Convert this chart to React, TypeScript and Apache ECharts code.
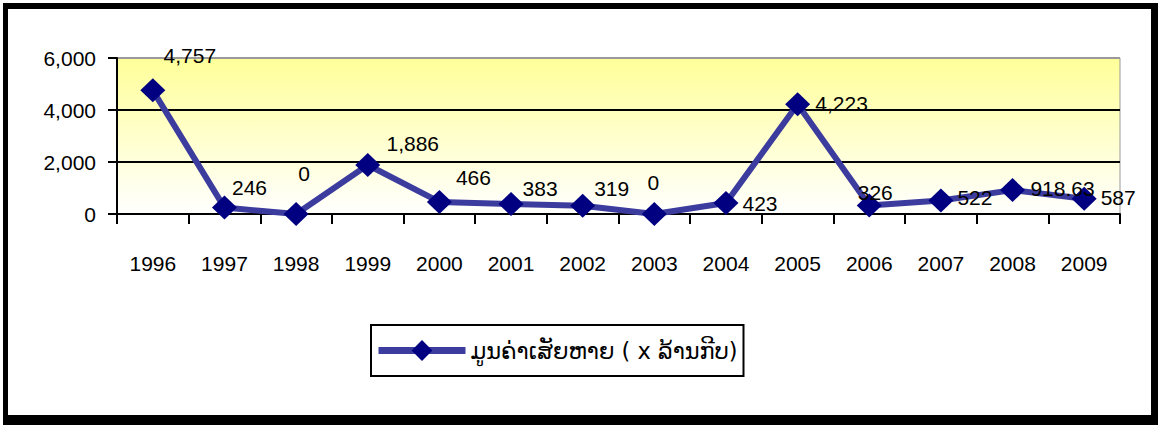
import React, { useEffect, useRef } from "react";
import * as echarts from "echarts";

const categories = ["1996", "1997", "1998", "1999", "2000", "2001", "2002", "2003", "2004", "2005", "2006", "2007", "2008", "2009"];
const values = [4757, 246, 0, 1886, 466, 383, 319, 0, 423, 4223, 326, 522, 918.63, 587];
const yMin = 0;
const yMax = 6000;
const yInterval = 2000;
const seriesName = "ມູນຄ່າເສັຍຫາຍ ( x ລ້ານກີບ)";

// label placement (style only)
const labelOffsets = [
  [37, -35], [25, -20], [8, -41], [45, -21], [34, -24], [29, -16], [29, -17],
  [-1, -32], [34, 0], [44, -1], [6, -13], [34, -3], [50, -2], [34, -1],
];

const fmt = (v: number) => v.toLocaleString("en-US", { maximumFractionDigits: 2 });

export default function App() {
  const ref = useRef<HTMLDivElement>(null);
  useEffect(() => {
    if (!ref.current) return;
    const chart = echarts.init(ref.current, undefined, { renderer: "svg" });
    const font = "'Liberation Sans', Arial, sans-serif";
    chart.setOption({
      animation: false,
      backgroundColor: "transparent",
      textStyle: { fontFamily: font },
      grid: {
        left: 117,
        right: 38,
        top: 58,
        bottom: 211,
        show: true,
        borderColor: "#999999",
        borderWidth: 1,
        backgroundColor: new echarts.graphic.LinearGradient(0, 0, 0, 1, [
          { offset: 0, color: "#FFFF99" },
          { offset: 1, color: "#FFFFFF" },
        ]),
      },
      legend: {
        left: 371,
        top: 325,
        orient: "horizontal",
        borderColor: "#000",
        borderWidth: 2,
        padding: [14, 6, 14, 4],
        itemWidth: 87,
        itemHeight: 26,
        lineStyle: { width: 7 },
        textStyle: { fontSize: 22.5, color: "#000", fontFamily: "'DejaVu Sans', 'Noto Sans', sans-serif" },
        data: [seriesName],
      },
      xAxis: {
        type: "category",
        data: categories,
        boundaryGap: true,
        axisLine: { show: true, lineStyle: { color: "#000", width: 2 } },
        axisTick: { show: true, length: 10, lineStyle: { color: "#000", width: 2 } },
        axisLabel: { color: "#000", fontSize: 21, margin: 39, fontFamily: font },
        splitLine: { show: false },
      },
      yAxis: {
        type: "value",
        min: yMin,
        max: yMax,
        interval: yInterval,
        axisLine: { show: true, lineStyle: { color: "#000", width: 2 } },
        axisTick: { show: true, length: 9, lineStyle: { color: "#000", width: 2 } },
        axisLabel: { color: "#000", fontSize: 21, margin: 21, fontFamily: font, formatter: (v: number) => fmt(v) },
        splitLine: { show: true, lineStyle: { color: ["#000", "#000", "#000", "#999"], width: 2 } },
      },
      series: [
        {
          name: seriesName,
          type: "line",
          data: values.map((v, i) => ({
            value: v,
            label: { offset: labelOffsets[i] },
          })),
          symbol: "diamond",
          symbolSize: [25, 24],
          itemStyle: { color: "#000080" },
          lineStyle: { color: "#3c3c9f", width: 6 },
          label: {
            show: true,
            position: "inside",
            color: "#000",
            fontSize: 21,
            fontFamily: font,
            formatter: (p: any) => fmt(p.value),
          },
          z: 3,
        },
      ],
    });
    return () => chart.dispose();
  }, []);

  return (
    <div style={{ position: "fixed", left: 0, top: 0, width: 1158, height: 425, background: "#fff" }}>
      <div style={{ position: "absolute", left: 3, top: 3, width: 1155, height: 422, background: "#000" }} />
      <div style={{ position: "absolute", left: 8, top: 9, width: 1143, height: 406, background: "#fff" }} />
      <div ref={ref} style={{ position: "absolute", left: 0, top: 0, width: 1158, height: 425 }} />
    </div>
  );
}
